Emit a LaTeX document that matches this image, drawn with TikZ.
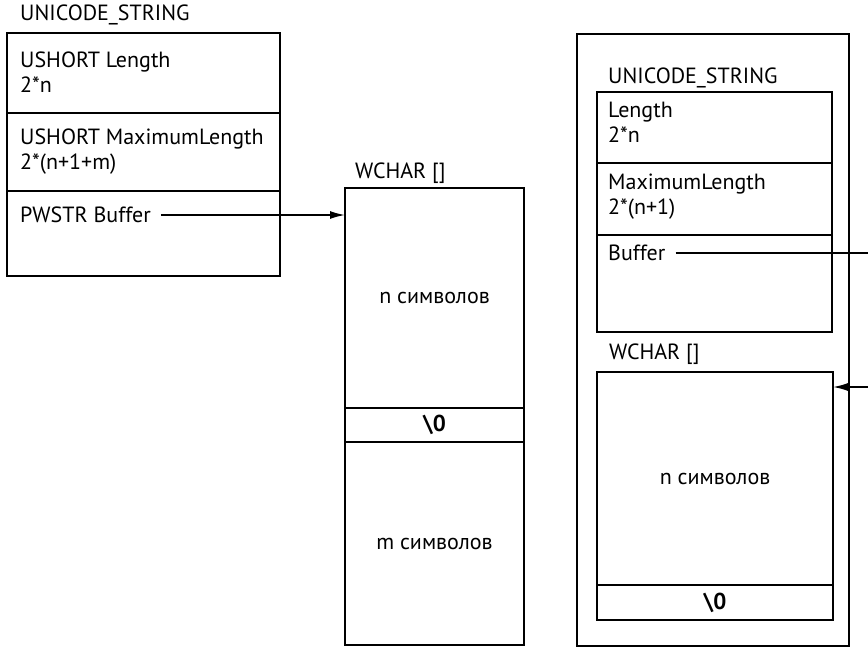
\documentclass[tikz,border=0pt]{standalone}
\usepackage{fontspec}
\setmainfont{PT Sans}
\usetikzlibrary{arrows.meta,positioning,calc}

\begin{document}
\begin{tikzpicture}[x=1pt,y=-1pt,
  cell/.style={rectangle,draw=black,line width=1.8pt,anchor=north west,inner sep=0pt,outer sep=0pt},
  txt/.style={anchor=north west,inner sep=0pt,align=left,font=\fontsize{22}{25}\selectfont},
  lbl/.style={anchor=west,inner sep=0pt,font=\fontsize{22}{25}\selectfont},
  mid/.style={inner sep=0pt,font=\fontsize{22}{25}\selectfont},
  ptr/.style={draw,line width=1.6pt,-{Latex[length=15pt,width=8pt]}}]
\useasboundingbox (0,0) rectangle (868,648);
% left: UNICODE_STRING pointing at a separate buffer
\node[lbl] (lname) at (20,15) {UNICODE\_STRING};
\node[cell,minimum width=273pt,minimum height=80pt] (llen) at (7,33) {};
\node[cell,minimum width=273pt,minimum height=78pt,below=0pt of llen] (lmax) {};
\node[cell,minimum width=273pt,minimum height=85pt,below=0pt of lmax] (lbuf) {};
\node[txt] (llent) at (20,52) {USHORT Length\\2*n};
\node[txt] (lmaxt) at (20,129) {USHORT MaximumLength\\2*(n+1+m)};
\node[lbl] (lbuft) at (20,215) {PWSTR Buffer};
% the buffer itself
\node[lbl] (wname) at (355,173) {WCHAR []};
\node[cell,minimum width=179pt,minimum height=220pt] (wchars) at (345,188) {};
\node[cell,minimum width=179pt,minimum height=34pt,below=0pt of wchars] (wnul) {};
\node[cell,minimum width=179pt,minimum height=203pt,below=0pt of wnul] (wfree) {};
\node[mid] at (wchars) {n символов};
\node[mid,font=\fontsize{23}{25}\selectfont\bfseries] at (wnul) {\textbackslash0};
\node[mid] at (wfree) {m символов};
\path[ptr] ([xshift=10pt]lbuft.east) -- (lbuft.east -| wchars.west);
% right: header and buffer in one block
\node[cell,minimum width=272pt,minimum height=612pt] (outer) at (577,34) {};
\node[lbl] (rname) at (608,78) {UNICODE\_STRING};
\node[cell,minimum width=235pt,minimum height=71pt] (rlen) at (597,92) {};
\node[cell,minimum width=235pt,minimum height=72pt,below=0pt of rlen] (rmax) {};
\node[cell,minimum width=235pt,minimum height=97pt,below=0pt of rmax] (rbuf) {};
\node[txt] (rlent) at (608,102) {Length\\2*n};
\node[txt] (rmaxt) at (608,174) {MaximumLength\\2*(n+1)};
\node[lbl] (rbuft) at (608,253) {Buffer};
\node[lbl] (rwname) at (609,354) {WCHAR []};
\node[cell,minimum width=236pt,minimum height=213pt] (rchars) at (597,372) {};
\node[cell,minimum width=236pt,minimum height=35pt,below=0pt of rchars] (rnul) {};
\node[mid] at (rchars) {n символов};
\node[mid,font=\fontsize{23}{25}\selectfont\bfseries] at (rnul) {\textbackslash0};
% pointer leaves the page on the right and comes back
\coordinate (turn) at (885,255);
\path[ptr] ([xshift=10pt]rbuft.east) -- (rbuft.east -| turn) |- ([yshift=-15pt]rchars.north east);
\end{tikzpicture}
\end{document}
